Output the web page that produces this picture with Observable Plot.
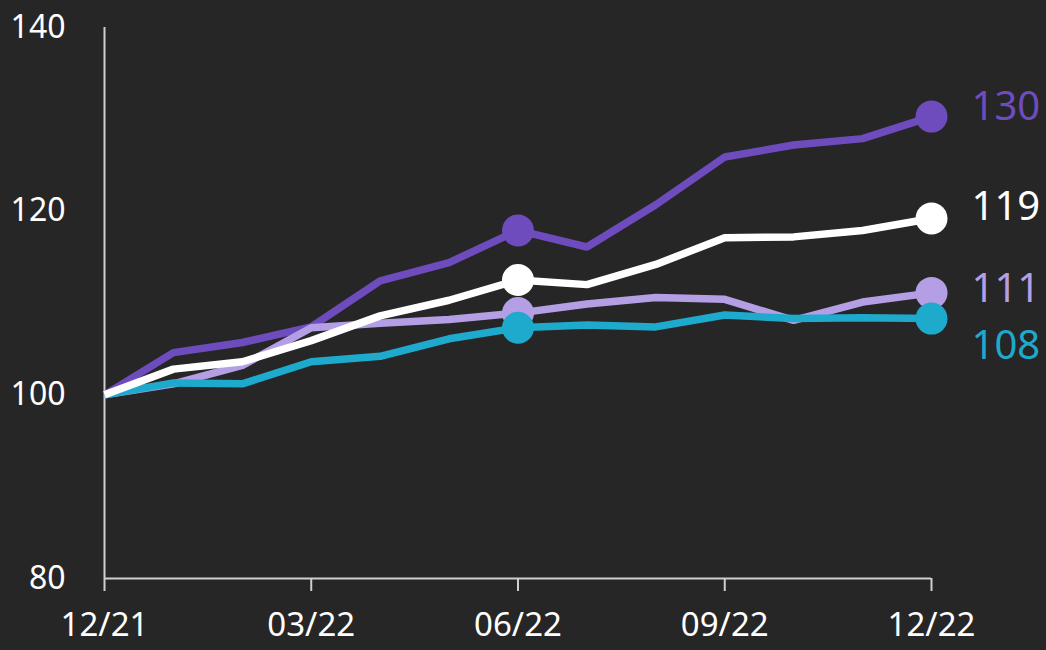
<!DOCTYPE html>
<html>
<head>
<meta charset="utf-8">
<script src="https://cdn.jsdelivr.net/npm/d3@7"></script>
<script src="https://cdn.jsdelivr.net/npm/@observablehq/plot@0.6"></script>
<style>
  html, body { margin: 0; padding: 0; background: #262626; overflow: hidden; }
</style>
</head>
<body>
<div id="chart"></div>
<script>
const months = ["12/21","01/22","02/22","03/22","04/22","05/22","06/22","07/22","08/22","09/22","10/22","11/22","12/22"];
const tickMonths = ["12/21","03/22","06/22","09/22","12/22"];
const yTicks = [80, 100, 120, 140];
const seriesNames = ["Series A", "Series B", "Series C", "Series D"];
const seriesColors = ["#6f4cbe", "#b49fe4", "#1eaacd", "#ffffff"];
const seriesA = [100, 104.6, 105.7, 107.4, 112.4, 114.4, 117.9, 116.1, 120.7, 125.9, 127.2, 127.9, 130.3];
const seriesB = [100, 101.2, 103.2, 107.3, 107.8, 108.2, 108.9, 109.9, 110.6, 110.4, 108.1, 110.1, 111.1];
const seriesC = [100, 101.3, 101.2, 103.6, 104.2, 106.1, 107.3, 107.6, 107.4, 108.7, 108.3, 108.4, 108.3];
const seriesD = [100, 102.8, 103.6, 105.9, 108.6, 110.3, 112.5, 112.0, 114.2, 117.1, 117.2, 117.9, 119.2];
const endLabels = ["130", "111", "108", "119"];
const dotMonths = ["06/22", "12/22"];

const allSeries = [seriesA, seriesB, seriesC, seriesD];
const labelDy = [-9, -4, 28, -11];
const firstMonth = months[0];
const lastMonth = months[months.length - 1];

const marks = [
  Plot.ruleY([80], {x1: () => firstMonth, x2: () => lastMonth, stroke: "#cfcfcf", strokeWidth: 2}),
  Plot.ruleX([firstMonth], {y1: 80, y2: 140, stroke: "#cfcfcf", strokeWidth: 2}),
  Plot.axisX({ticks: tickMonths, tickSize: 13, stroke: "#cfcfcf", strokeWidth: 2, fontSize: 33, fill: "white", tickPadding: 21, label: null}),
  Plot.axisY({ticks: yTicks, tickSize: 0, tickPadding: 39, fontSize: 32, fill: "white", label: null})
];

allSeries.forEach((vals, i) => {
  const data = months.map((m, j) => ({month: m, value: vals[j], series: seriesNames[i]}));
  marks.push(Plot.line(data, {x: "month", y: "value", stroke: seriesColors[i], strokeWidth: 7.5, strokeLinejoin: "miter", strokeLinecap: "butt"}));
});
allSeries.forEach((vals, i) => {
  const data = months.map((m, j) => ({month: m, value: vals[j]})).filter(d => dotMonths.includes(d.month));
  marks.push(Plot.dot(data, {x: "month", y: "value", r: 16, fill: seriesColors[i], stroke: "none"}));
});
allSeries.forEach((vals, i) => {
  const last = [{month: lastMonth, value: vals[vals.length - 1], label: endLabels[i]}];
  marks.push(Plot.text(last, {x: "month", y: "value", text: "label", fill: seriesColors[i], fontSize: 40, textAnchor: "start", dx: 40, dy: labelDy[i]}));
});

const chart = Plot.plot({
  width: 1046,
  height: 650,
  marginLeft: 104,
  marginRight: 115,
  marginTop: 27,
  marginBottom: 72,
  style: {background: "#262626", color: "white", fontFamily: "'Noto Sans', sans-serif", overflow: "visible"},
  x: {type: "point", domain: months, padding: 0, inset: 0, round: false},
  y: {domain: [80, 140], inset: 0},
  marks
});
document.getElementById("chart").appendChild(chart);
</script>
</body>
</html>
